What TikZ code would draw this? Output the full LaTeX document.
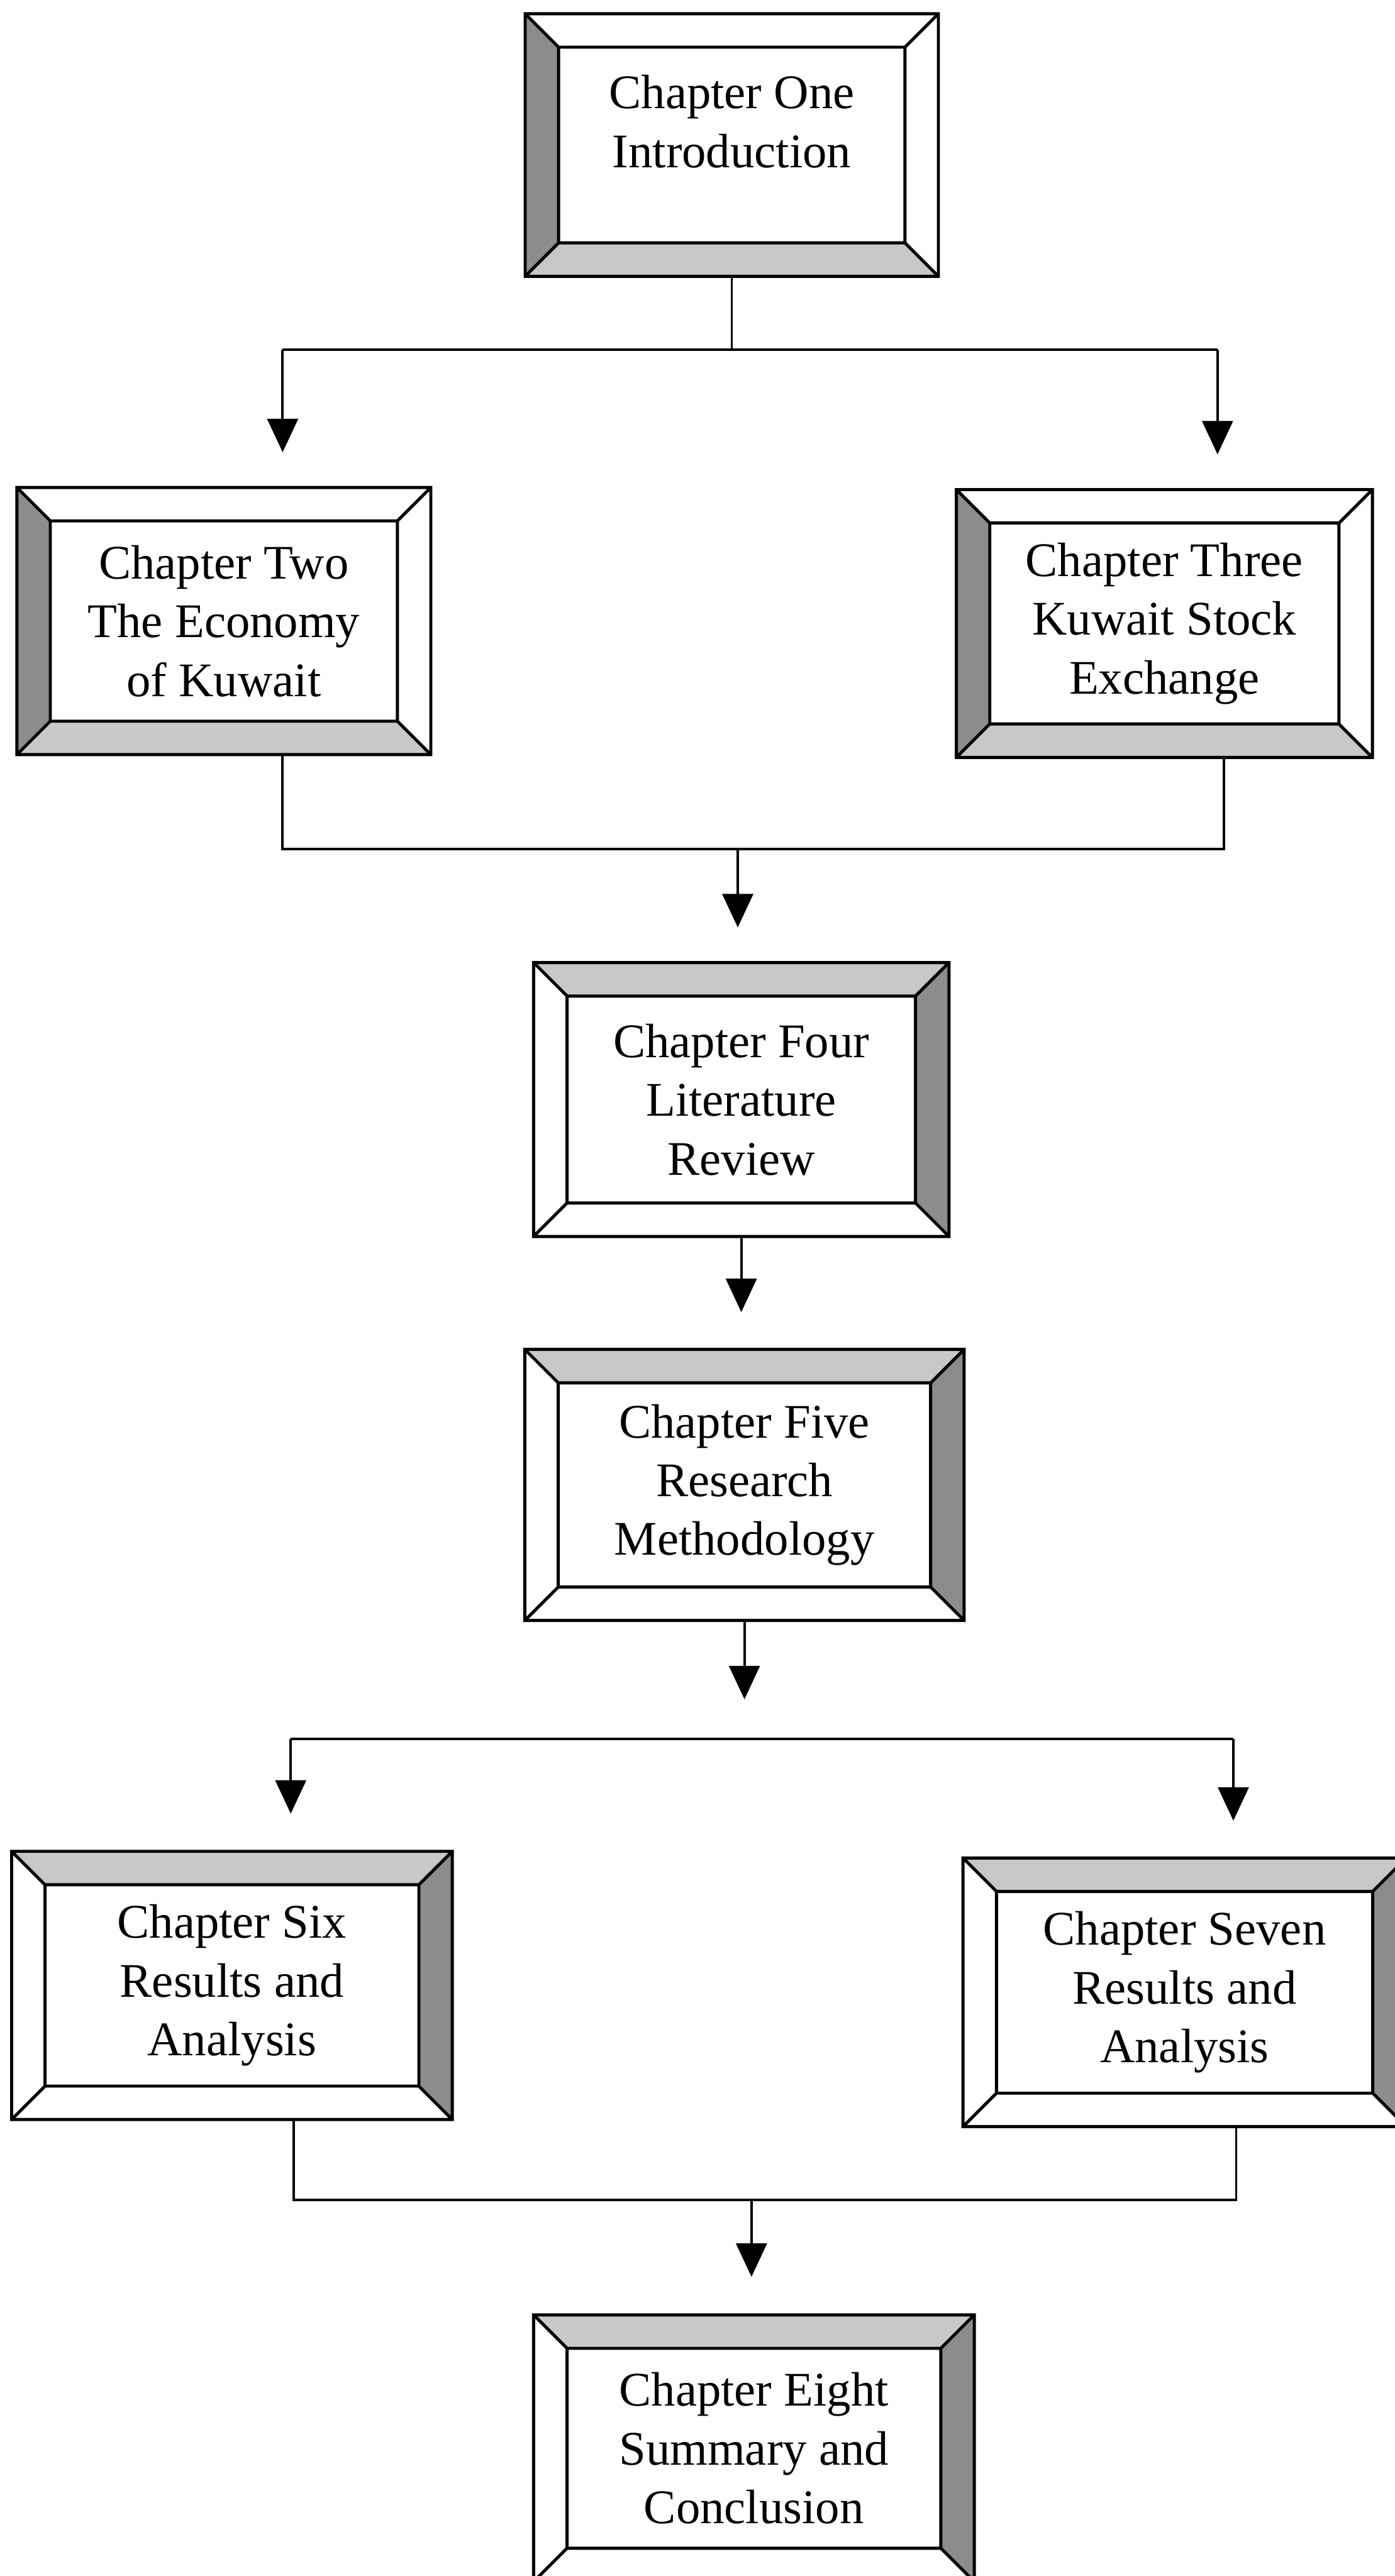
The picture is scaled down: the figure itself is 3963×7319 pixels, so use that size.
\documentclass[tikz,border=0pt]{standalone}
\usepackage{fontspec}
\setmainfont{Liberation Serif}
\usetikzlibrary{arrows.meta,calc,fit}

\definecolor{bevdark}{HTML}{8C8C8C}
\definecolor{bevlight}{HTML}{C8C8C8}

% bevel width of the picture frames (in picture units)
\def\bv{95}

% #1 node name, #2 top, #3 right, #4 bottom, #5 left bevel colours
\newcommand{\bevelbox}[5]{%
  \path (#1.north west) coordinate (#1-a) (#1.north east) coordinate (#1-b)
        (#1.south east) coordinate (#1-c) (#1.south west) coordinate (#1-d);
  \path ($(#1-a)+(\bv,\bv)$) coordinate (#1-ia)
        ($(#1-b)+(-\bv,\bv)$) coordinate (#1-ib)
        ($(#1-c)+(-\bv,-\bv)$) coordinate (#1-ic)
        ($(#1-d)+(\bv,-\bv)$) coordinate (#1-id);
  \fill[white] (#1-a) rectangle (#1-c);
  \fill[#2] (#1-a) -- (#1-b) -- (#1-ib) -- (#1-ia) -- cycle;
  \fill[#3] (#1-b) -- (#1-c) -- (#1-ic) -- (#1-ib) -- cycle;
  \fill[#4] (#1-c) -- (#1-d) -- (#1-id) -- (#1-ic) -- cycle;
  \fill[#5] (#1-d) -- (#1-a) -- (#1-ia) -- (#1-id) -- cycle;
  \draw[frame] (#1-a) rectangle (#1-c) (#1-ia) rectangle (#1-ic)
        (#1-a) -- (#1-ia) (#1-b) -- (#1-ib) (#1-c) -- (#1-ic) (#1-d) -- (#1-id);
}

\begin{document}
\begin{tikzpicture}[x=0.01cm,y=-0.01cm,
  boxarea/.style={inner sep=0pt,outer sep=0pt,draw=none},
  frame/.style={line width=2.5pt,line join=miter},
  lbl/.style={align=center,inner sep=0pt,font=\fontsize{39}{47.5}\selectfont},
  conn/.style={line width=2pt},
  arr/.style={conn,-{Triangle[width=0.87cm,length=0.95cm]}}]

\clip (0,0) rectangle (3963,7319);
\fill[white] (0,0) rectangle (3963,7319);

% chapter boxes
\node[boxarea,fit={(1492,39) (2666,785)}]    (b1) {};
\node[boxarea,fit={(48,1385) (1224,2144)}]   (b2) {};
\node[boxarea,fit={(2717,1391) (3899,2152)}] (b3) {};
\node[boxarea,fit={(1516,2735) (2696,3513)}] (b4) {};
\node[boxarea,fit={(1491,3834) (2739,4604)}] (b5) {};
\node[boxarea,fit={(33,5260) (1285,6022)}]   (b6) {};
\node[boxarea,fit={(2736,5279) (3995,6042)}] (b7) {};
\node[boxarea,fit={(1516,6577) (2768,7335)}] (b8) {};

\bevelbox{b1}{white}{white}{bevlight}{bevdark}
\bevelbox{b2}{white}{white}{bevlight}{bevdark}
\bevelbox{b3}{white}{white}{bevlight}{bevdark}
\bevelbox{b4}{bevlight}{bevdark}{white}{white}
\bevelbox{b5}{bevlight}{bevdark}{white}{white}
\bevelbox{b6}{bevlight}{bevdark}{white}{white}
\bevelbox{b7}{bevlight}{bevdark}{white}{white}
\bevelbox{b8}{bevlight}{bevdark}{white}{white}

% chapter titles
\node[lbl] (t1) at ($(b1.center)+(0,-67)$) {Chapter One\\Introduction};
\node[lbl] (t2) at (b2.center) {Chapter Two\\The Economy\\of Kuwait};
\node[lbl] (t3) at (b3.center) {Chapter Three\\Kuwait Stock\\Exchange};
\node[lbl] (t4) at (b4.center) {Chapter Four\\Literature\\Review};
\node[lbl] (t5) at (b5.center) {Chapter Five\\Research\\Methodology};
\node[lbl] (t6) at (b6.center) {Chapter Six\\Results and\\Analysis};
\node[lbl] (t7) at (b7.center) {Chapter Seven\\Results and\\Analysis};
\node[lbl] (t8) at (b8.center) {Chapter Eight\\Summary and\\Conclusion};

% junction points of the connector brackets
\coordinate (h1a) at (803,994);  \coordinate (h1b) at (3459,994);
\coordinate (h2a) at (803,2413); \coordinate (h2b) at (3478,2413);
\coordinate (h2c) at (2096,2413);
\coordinate (h3a) at (826,4940); \coordinate (h3b) at (3504,4940);
\coordinate (h4a) at (834,6250); \coordinate (h4b) at (3512,6250);
\coordinate (h4c) at (2135,6250);

% arrow tips, stopping short of the boxes below
\coordinate (e2) at ($(h1a |- b2.north)+(0,-100)$);
\coordinate (e3) at ($(h1b |- b3.north)+(0,-100)$);
\coordinate (e4) at ($(h2c |- b4.north)+(0,-100)$);
\coordinate (e5) at ($(b4.south |- b5.north)+(0,-106)$);
\coordinate (e55) at ($(b5.south)+(0,224)$);
\coordinate (e6) at ($(h3a |- b6.north)+(0,-107)$);
\coordinate (e7) at ($(h3b |- b7.north)+(0,-106)$);
\coordinate (e8) at ($(h4c |- b8.north)+(0,-108)$);

% Chapter One to Chapters Two and Three
\draw[conn] (b1.south) -- (b1.south |- h1a);
\draw[conn] (h1a) -- (h1b);
\draw[arr] (h1a) -- (e2);
\draw[arr] (h1b) -- (e3);

% Chapters Two and Three to Chapter Four
\draw[conn] (h2a |- b2.south) -- (h2a) -- (h2b) -- (h2b |- b3.south);
\draw[arr] (h2c) -- (e4);

% Chapter Four to Chapter Five
\draw[arr] (b4.south) -- (e5);

% Chapter Five to Chapters Six and Seven
\draw[arr] (b5.south) -- (e55);
\draw[conn] (h3a) -- (h3b);
\draw[arr] (h3a) -- (e6);
\draw[arr] (h3b) -- (e7);

% Chapters Six and Seven to Chapter Eight
\draw[conn] (h4a |- b6.south) -- (h4a) -- (h4b) -- (h4b |- b7.south);
\draw[arr] (h4c) -- (e8);

\end{tikzpicture}
\end{document}
